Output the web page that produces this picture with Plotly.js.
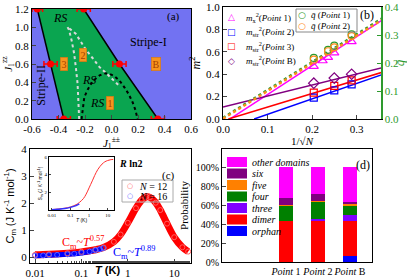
<!DOCTYPE html>
<html><head><meta charset="utf-8">
<script src="https://cdn.plot.ly/plotly-3.0.1.min.js"></script>
<style>html,body{margin:0;padding:0;background:#fff}#c{width:407px;height:279px}</style>
</head><body><div id="c"></div>
<script>
// ---------- panel (a) phase diagram ----------
const aLeftX = [-0.56, -0.46, -0.36];
const aLeftY = [1.2, 0.6, 0.0];
const aLeftErr = [0.04, 0.05, 0.05];
const aRightX = [-0.21, 0.06, 0.35];
const aRightY = [1.2, 0.6, 0.0];
const aRightErr = [0.05, 0.05, 0.05];
const aDomeX = [-0.226,-0.215,-0.205,-0.18,-0.154,-0.12,-0.09,-0.05,-0.02,0.02,0.06,0.10,0.13,0.16,0.18,0.197];
const aDomeY = [0,0.12,0.24,0.32,0.385,0.44,0.476,0.497,0.495,0.47,0.42,0.34,0.27,0.18,0.10,0];
const aLightX = [-0.244,-0.25,-0.256,-0.268,-0.282,-0.30,-0.32,-0.333,-0.30,-0.27,-0.23,-0.19,-0.14,-0.09,-0.04,0.0,0.06];
const aLightY = [0,0.2,0.385,0.55,0.714,0.85,0.97,1.006,0.97,0.93,0.84,0.75,0.66,0.566,0.5,0.44,0.36];
const aTicksX = [-0.6,-0.4,-0.2,0.0,0.2,0.4,0.6];
const aTicksY = [0.0,0.2,0.4,0.6,0.8,1.0,1.2];

// ---------- panel (b) finite-size scaling ----------
const bP1x = [0.204, 0.224, 0.236, 0.25, 0.289];
const bP1y = [0.47, 0.52, 0.55, 0.59, 0.69];
const bNx = [0.204, 0.25, 0.289];
const bP2y = [0.19, 0.255, 0.31];
const bP3y = [0.235, 0.295, 0.345];
const bPBy = [0.32, 0.365, 0.40];
const bQx = [0.204, 0.236, 0.25, 0.289];
const bQ1 = [0.218, 0.247, 0.262, 0.302];
const bQ2 = [0.212, 0.242, 0.256, 0.296];
const bFitP1x = [0, 0.36], bFitP1y = [-0.04, 0.89];
const bFitP2x = [0.07, 0.36], bFitP2y = [0.0, 0.40];
const bFitP3x = [0.012, 0.36], bFitP3y = [0.0, 0.42];
const bFitPBx = [0, 0.36], bFitPBy = [0.107, 0.46];
const bFitQ1x = [0, 0.36], bFitQ1y = [0.004, 0.362];
const bFitQ2x = [0, 0.36], bFitQ2y = [0.001, 0.357];
const bTicksX = [0.0, 0.1, 0.2, 0.3];
const bTicksY = [0.0, 0.2, 0.4, 0.6, 0.8, 1.0];
const bTicksQ = [0.0, 0.1, 0.2, 0.3, 0.4];

// ---------- panel (c) specific heat ----------
const cT12 = [0.01,0.02,0.05,0.1,0.2,0.3,0.5,0.7,1,1.5,2,2.5,3,4,5,7,10,15,20];
const cC12 = [0.10,0.12,0.16,0.21,0.29,0.37,0.58,0.85,1.28,1.82,2.12,2.24,2.22,2.02,1.75,1.25,0.75,0.38,0.22];
const cT16 = [0.01,0.015,0.02,0.03,0.05,0.07,0.1,0.15,0.2,0.25,0.3];
const cC16 = [0.07,0.08,0.09,0.10,0.12,0.14,0.17,0.22,0.27,0.31,0.35];
const sT12 = [0.01,0.02,0.05,0.1,0.2,0.3,0.5,0.7,1,1.5,2,3,5,7,10,15,20];
const sS12 = [0.05,0.1,0.2,0.35,0.6,0.85,1.3,1.8,2.5,3.3,3.9,4.6,5.2,5.45,5.6,5.7,5.72];
const sT16 = [0.01,0.02,0.05,0.1,0.2,0.3];
const sS16 = [0.04,0.08,0.16,0.3,0.5,0.7];
const cTicksX = [0.01, 0.1, 1, 10];
const cTickText = ['0.01','0.1','1','10'];
const cTicksY = [0,1,2,3,4];

// ---------- panel (d) probabilities ----------
const dCats = ['Point 1', 'Point 2', 'Point B'];
const dNames = ['orphan','dimer','three','four','five','six','other domains'];
const dColors = ['#0000ff','#ff0000','#8000ff','#008000','#ff8000','#800080','#ff00ff'];
const dOrphan = [0.005, 0.003, 0.065];
const dDimer  = [0.425, 0.427, 0.365];
const dThree  = [0.005, 0.02, 0.07];
const dFour   = [0.155, 0.185, 0.09];
const dFive   = [0.008, 0.005, 0.025];
const dSix    = [0.08, 0.075, 0.02];
const dOther  = [0.322, 0.285, 0.365];
const dValues = [dOrphan, dDimer, dThree, dFour, dFive, dSix, dOther];
const dTicksY = [0, 0.2, 0.4, 0.6, 0.8, 1.0];

const W = 407, H = 279;
const SERIF = 'Liberation Serif', SANS = 'Liberation Sans';
const BLUE_BG = '#7272f2', GREEN = '#0aa550', QGREEN = '#2e9a2e';
const px = x => x / W, py = y => 1 - y / H;

const traces = [];
// (a)
traces.push({x: aLeftX.concat(aRightX.slice().reverse()), y: aLeftY.concat(aRightY.slice().reverse()),
  xaxis:'x', yaxis:'y', mode:'lines', fill:'toself', fillcolor:GREEN, line:{width:0}, hoverinfo:'skip'});
traces.push({x: aLeftX, y: aLeftY, xaxis:'x', yaxis:'y', mode:'lines', line:{color:'black', width:1.5}});
traces.push({x: aRightX, y: aRightY, xaxis:'x', yaxis:'y', mode:'lines', line:{color:'black', width:1.5}});
traces.push({x: aLightX, y: aLightY, xaxis:'x', yaxis:'y', mode:'lines', line:{color:'#d8d8d8', width:2, dash:'dot'}});
traces.push({x: aDomeX, y: aDomeY, xaxis:'x', yaxis:'y', mode:'lines', line:{color:'black', width:2, dash:'dot'}});
traces.push({x: aLeftX, y: aLeftY, xaxis:'x', yaxis:'y', mode:'markers', marker:{color:'red', size:7},
  error_x:{type:'data', array:aLeftErr, visible:true, color:'red', thickness:1.5, width:3}});
traces.push({x: aRightX, y: aRightY, xaxis:'x', yaxis:'y', mode:'markers', marker:{color:'red', size:7},
  error_x:{type:'data', array:aRightErr, visible:true, color:'red', thickness:1.5, width:3}});

// (b)
traces.push({x:bFitQ1x, y:bFitQ1y, xaxis:'x2', yaxis:'y6', mode:'lines', line:{color:QGREEN, width:2.5, dash:'dot'}});
traces.push({x:bFitQ2x, y:bFitQ2y, xaxis:'x2', yaxis:'y6', mode:'lines', line:{color:'#ff8c1a', width:2.5, dash:'dot'}});
traces.push({x:bFitP1x, y:bFitP1y, xaxis:'x2', yaxis:'y2', mode:'lines', line:{color:'#ff00ff', width:1.5}});
traces.push({x:bFitP2x, y:bFitP2y, xaxis:'x2', yaxis:'y2', mode:'lines', line:{color:'#0000ff', width:1.5}});
traces.push({x:bFitP3x, y:bFitP3y, xaxis:'x2', yaxis:'y2', mode:'lines', line:{color:'#ff0000', width:1.5}});
traces.push({x:bFitPBx, y:bFitPBy, xaxis:'x2', yaxis:'y2', mode:'lines', line:{color:'#800080', width:1.5}});
traces.push({x:bP1x, y:bP1y, xaxis:'x2', yaxis:'y2', mode:'markers', marker:{symbol:'triangle-up-open', size:8, color:'#ff00ff', line:{width:1.2}}});
traces.push({x:bNx, y:bP2y, xaxis:'x2', yaxis:'y2', mode:'markers', marker:{symbol:'square-open', size:7, color:'#0000ff', line:{width:1.2}}});
traces.push({x:bNx, y:bP3y, xaxis:'x2', yaxis:'y2', mode:'markers', marker:{symbol:'square-open', size:7, color:'#ff0000', line:{width:1.2}}});
traces.push({x:bNx, y:bPBy, xaxis:'x2', yaxis:'y2', mode:'markers', marker:{symbol:'diamond-open', size:8, color:'#800080', line:{width:1.2}}});
traces.push({x:bQx, y:bQ1, xaxis:'x2', yaxis:'y6', mode:'markers', marker:{symbol:'circle-open', size:7, color:QGREEN, line:{width:1.2}}});
traces.push({x:bQx, y:bQ2, xaxis:'x2', yaxis:'y6', mode:'markers', marker:{symbol:'circle-open', size:7, color:'#ff8c1a', line:{width:1.2}}});

// (c)
traces.push({x:cT12, y:cC12, xaxis:'x3', yaxis:'y3', mode:'lines', line:{color:'#ff0000', width:7, shape:'spline'}});
traces.push({x:cT16, y:cC16, xaxis:'x3', yaxis:'y3', mode:'lines', line:{color:'#0000ff', width:5, shape:'spline'}});
traces.push({x:cT12, y:cC12, xaxis:'x3', yaxis:'y3', mode:'markers', marker:{symbol:'circle-open', size:5, color:'#ff6060', line:{width:1}}});
traces.push({x:cT16, y:cC16, xaxis:'x3', yaxis:'y3', mode:'markers', marker:{symbol:'circle-open', size:5, color:'#6060ff', line:{width:1}}});
// inset
traces.push({x:sT12, y:sS12, xaxis:'x4', yaxis:'y4', mode:'lines', line:{color:'#ff3030', width:1, shape:'spline'}});
traces.push({x:sT16, y:sS16, xaxis:'x4', yaxis:'y4', mode:'lines', line:{color:'#3030ff', width:1.5, shape:'spline'}});

// (d)
dNames.forEach((n, i) => {
  traces.push({type:'bar', name:n, x:dCats, y:dValues[i], xaxis:'x5', yaxis:'y5', width:0.42,
    marker:{color:dColors[i], line:{width:0}}});
});

const axBase = {showline:true, linecolor:'black', linewidth:1, mirror:true, ticks:'inside', ticklen:4,
  showgrid:false, zeroline:false, tickfont:{family:SERIF, size:11, color:'black'}};

const layout = {
  width:W, height:H, margin:{l:0, r:0, t:0, b:0}, showlegend:false,
  paper_bgcolor:'white', plot_bgcolor:'white', barmode:'stack',
  font:{family:SERIF, size:11, color:'black'},
  xaxis: Object.assign({}, axBase, {domain:[px(32), px(191)], anchor:'y', range:[-0.6,0.6],
    tickvals:aTicksX, ticktext:aTicksX.map(v=>v.toFixed(1)), title:{text:'<i>J</i><sub>1</sub><sup>±±</sup>', standoff:2, font:{size:11}}}),
  yaxis: Object.assign({}, axBase, {domain:[py(119), py(9)], anchor:'x', range:[0,1.2],
    tickvals:aTicksY, ticktext:aTicksY.map(v=>v.toFixed(1)), title:{text:'<i>J</i><sub>1</sub><sup>zz</sup>', standoff:2, font:{size:11}}}),
  xaxis2: Object.assign({}, axBase, {domain:[px(223), px(381)], anchor:'y2', range:[0,0.355],
    tickvals:bTicksX, ticktext:bTicksX.map(v=>v.toFixed(1)), title:{text:'1/√<i>N</i>', standoff:2, font:{size:11}}}),
  yaxis2: Object.assign({}, axBase, {domain:[py(119), py(7)], anchor:'x2', range:[0,1.0], mirror:false,
    tickvals:bTicksY, ticktext:bTicksY.map(v=>v.toFixed(1)), title:{text:'<i>m</i><sup>2</sup>', standoff:2, font:{size:12}}}),
  yaxis6: Object.assign({}, axBase, {overlaying:'y2', anchor:'x2', side:'right', range:[0,0.4], mirror:false,
    linecolor:QGREEN, linewidth:1.5, tickcolor:QGREEN, tickfont:{family:SERIF, size:11, color:QGREEN},
    tickvals:bTicksQ, ticktext:bTicksQ.map(v=>v.toFixed(1)), title:{text:'<i>q̄</i>', standoff:4, font:{size:13, color:QGREEN}}}),
  xaxis3: Object.assign({}, axBase, {domain:[px(30), px(191)], anchor:'y3', type:'log', range:[Math.log10(0.0078), Math.log10(23)],
    tickvals:cTicksX, ticktext:cTickText, minor:{ticks:'inside', ticklen:2, showgrid:false}}),
  yaxis3: Object.assign({}, axBase, {domain:[py(263), py(149)], anchor:'x3', range:[-0.2,4.0],
    tickvals:cTicksY, title:{text:'C<sub>m</sub> (J K<sup>-1</sup> mol<sup>-1</sup>)', standoff:4, font:{family:SANS, size:11}}}),
  xaxis4: Object.assign({}, axBase, {domain:[px(49), px(114)], anchor:'y4', type:'log', range:[Math.log10(0.007), Math.log10(22)],
    tickvals:cTicksX, ticktext:cTickText, ticklen:2, tickfont:{family:SERIF, size:5},
    title:{text:'<i>T</i> (K)', standoff:1, font:{family:SANS, size:5}}}),
  yaxis4: Object.assign({}, axBase, {domain:[py(210), py(157)], anchor:'x4', range:[0,6], ticklen:2,
    tickvals:[2,4,6], tickfont:{family:SERIF, size:5},
    title:{text:'S<sub>m</sub> (J K<sup>-1</sup> mol<sup>-1</sup>)', standoff:1, font:{family:SANS, size:5}}}),
  xaxis5: Object.assign({}, axBase, {domain:[px(222), px(372)], anchor:'y5', type:'category', range:[-2, 2.69],
    tickvals:dCats, ticktext:dCats.map(c => '<i>' + c.replace(' ', '</i> ')), ticks:'', tickangle:0, tickfont:{family:SERIF, size:10}}),
  yaxis5: Object.assign({}, axBase, {domain:[py(262), py(149)], anchor:'x5', range:[0,1.19],
    tickvals:dTicksY, tickformat:'.0%', tickfont:{family:SERIF, size:10},
    title:{text:'Probability', standoff:4, font:{size:11}}}),
  shapes: [
    {type:'rect', xref:'x domain', yref:'y domain', x0:0, x1:1, y0:0, y1:1, fillcolor:BLUE_BG, line:{width:0}, layer:'below'},
    {type:'rect', xref:'paper', yref:'paper', x0:px(296), x1:px(357), y0:py(32), y1:py(9), line:{color:'#888', width:1}},
    {type:'rect', xref:'paper', yref:'paper', x0:px(122), x1:px(173), y0:py(202), y1:py(180), line:{color:'#aaa', width:1}}
  ],
  annotations: []
};

const ann = layout.annotations;
function aText(x, y, text, opt) { ann.push(Object.assign({xref:'x', yref:'y', x:x, y:y, text:text, showarrow:false, xanchor:'center', yanchor:'middle', font:{family:SERIF, size:12, color:'black'}}, opt||{})); }
function pText(x, y, text, opt) { ann.push(Object.assign({xref:'paper', yref:'paper', x:px(x), y:py(y), text:text, showarrow:false, xanchor:'center', yanchor:'middle', font:{family:SERIF, size:11, color:'black'}}, opt||{})); }

// (a) labels
aText(-0.385, 1.1, '<i>RS</i>');
aText(-0.17, 0.43, '<i>RS</i>');
aText(-0.11, 0.18, '<i>RS</i>');
const boxStyle = {bgcolor:'#f7941d', bordercolor:'#d07010', borderwidth:0.5, borderpad:1, font:{family:SERIF, size:10, color:'#a84000'}};
aText(-0.213, 0.694, '2', boxStyle);
aText(-0.36, 0.6, '3', boxStyle);
aText(-0.015, 0.18, '1', boxStyle);
aText(0.333, 0.6, 'B', boxStyle);
aText(0.28, 0.84, 'Stripe-I', {font:{family:SERIF, size:12, color:'black'}});
aText(-0.535, 0.37, 'Stripe-II', {textangle:-90, font:{family:SERIF, size:12, color:'black'}});
aText(0.47, 1.12, '(a)', {font:{family:SERIF, size:11, color:'black'}});

// (b) labels & legends
pText(367, 15, '(b)', {font:{family:SERIF, size:12, color:'black'}});
const bLeg = [
  ['△', '#ff00ff', '<i>m</i><sub>x</sub><sup>2</sup>(<i>Point</i> 1)'],
  ['□', '#0000ff', '<i>m</i><sub>str</sub><sup>2</sup>(<i>Point</i> 2)'],
  ['□', '#ff0000', '<i>m</i><sub>str</sub><sup>2</sup>(<i>Point</i> 3)'],
  ['◇', '#800080', '<i>m</i><sub>str</sub><sup>2</sup>(<i>Point</i> B)']
];
bLeg.forEach((r, i) => {
  const y = 17 + i * 14.5;
  pText(231, y, r[0], {font:{family:'DejaVu Sans', size:9, color:r[1]}});
  pText(244, y, r[2], {xanchor:'left', font:{family:SERIF, size:9, color:'black'}});
});
const qLeg = [['○', QGREEN, '<i>q̄</i> (<i>Point</i> 1)'], ['○', '#ff8c1a', '<i>q̄</i> (<i>Point</i> 2)']];
qLeg.forEach((r, i) => {
  const y = 15 + i * 11;
  pText(302, y, r[0], {font:{family:'DejaVu Sans', size:9, color:r[1]}});
  pText(309, y, r[2], {xanchor:'left', font:{family:SERIF, size:9, color:'black'}});
});

// (c) labels & legend
pText(168, 175, '(c)', {font:{family:SERIF, size:11, color:'black'}});
pText(131, 163, '<b><i>R</i> ln2</b>', {font:{family:SERIF, size:10, color:'black'}});
pText(83, 242, 'C<sub>m</sub>~<i>T</i><sup>0.57</sup>', {font:{family:SERIF, size:12, color:'#ff0000'}});
pText(134, 252, 'C<sub>m</sub>~<i>T</i><sup>0.89</sup>', {font:{family:SERIF, size:12, color:'#0000ff'}});
pText(107, 270, '<b><i>T</i> (K)</b>', {font:{family:SANS, size:11, color:'black'}});
[['○', '#ff6060', '<i>N</i> = 12'], ['○', '#6060ff', '<i>N</i> = 16']].forEach((r, i) => {
  const y = 186 + i * 10;
  pText(130, y, r[0], {font:{family:'DejaVu Sans', size:7, color:r[1]}});
  pText(137, y, r[2], {xanchor:'left', font:{family:SERIF, size:10, color:'black'}});
});

// (d) labels & legend
pText(363, 165, '(d)', {font:{family:SERIF, size:12, color:'black'}});
dNames.slice().reverse().forEach((n, i) => {
  const y = 162 + i * 11.5;
  const col = dColors[dNames.length - 1 - i];
  layout.shapes.push({type:'rect', xref:'paper', yref:'paper', x0:px(227), x1:px(247), y0:py(y + 5), y1:py(y - 5), fillcolor:col, line:{width:0}});
  pText(250, y, '<i>' + n + '</i>', {xanchor:'left', font:{family:SERIF, size:10, color:'black'}});
});

Plotly.newPlot('c', traces, layout, {staticPlot:true, displayModeBar:false});
</script></body></html>
